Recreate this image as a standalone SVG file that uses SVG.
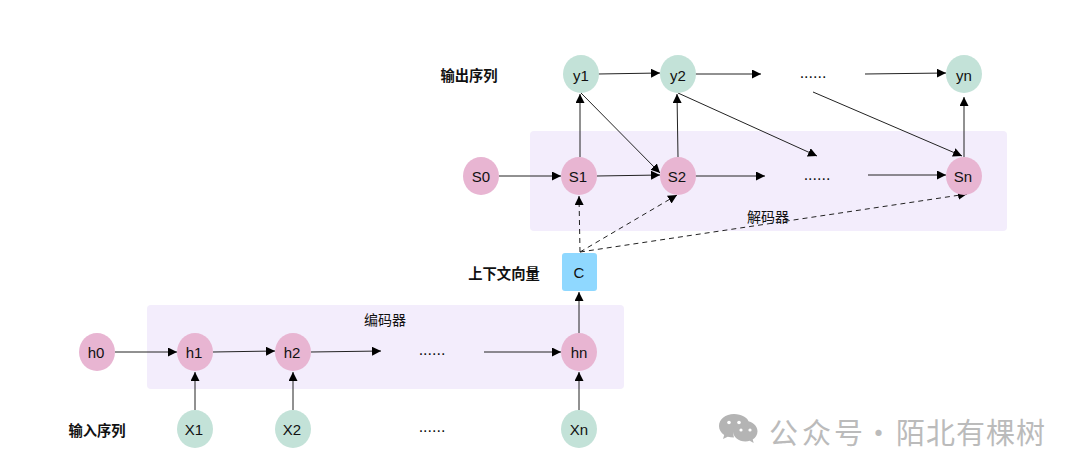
<svg xmlns="http://www.w3.org/2000/svg" width="1080" height="475" viewBox="0 0 1080 475">
<style>
text{font-family:"Liberation Sans","Noto Sans CJK SC",sans-serif;fill:#111;text-anchor:middle;dominant-baseline:central}
.n{font-size:15px}
.b{font-size:14.300px;font-weight:bold;font-family:"Noto Sans CJK SC",sans-serif}
.l{font-size:14px;font-family:"Noto Sans CJK SC",sans-serif}
.d{font-size:16px}
.g{fill:#c3e2d8}.p{fill:#e8b5d2}
.r{fill:#f3edfc}
.c line{stroke:#222;stroke-width:1;marker-end:url(#a)}
.c line.s{stroke-dasharray:5 4}
.w{font-family:"Noto Sans CJK SC",sans-serif;font-size:29px;fill:#bbb;text-anchor:start;letter-spacing:1px}
</style>
<defs><marker id="a" markerUnits="userSpaceOnUse" markerWidth="10" markerHeight="10" refX="9" refY="4.500" orient="auto"><path d="M0 0L9 4.500L0 9Z" fill="#000"/></marker></defs>
<rect width="1080" height="475" fill="#fff"/>
<g id="decoder-box"><rect class="r" x="530" y="131" width="477" height="100" rx="4"/><text class="l" x="768" y="216">解码器</text></g>
<g id="encoder-box"><rect class="r" x="147" y="305" width="477" height="84" rx="4"/><text class="l" x="385" y="319">编码器</text></g>
<g class="c" id="connectors" fill="none">
<line x1="598" y1="74" x2="660" y2="73"/>
<line x1="695" y1="74" x2="761" y2="74"/>
<line x1="865" y1="74" x2="946" y2="73"/>
<line x1="580" y1="157" x2="580" y2="94"/>
<line x1="678" y1="157" x2="677" y2="94"/>
<line x1="964" y1="157" x2="964" y2="97"/>
<line x1="581" y1="93" x2="660" y2="173"/>
<line x1="678" y1="93" x2="817" y2="156"/>
<line x1="813" y1="92" x2="962" y2="156"/>
<line x1="499" y1="176" x2="561" y2="176"/>
<line x1="597" y1="176" x2="660" y2="175"/>
<line x1="695" y1="176" x2="765" y2="176"/>
<line x1="868" y1="175" x2="946" y2="175"/>
<line class="s" x1="580" y1="252" x2="579" y2="196"/>
<line class="s" x1="580" y1="252" x2="677" y2="195"/>
<line class="s" x1="580" y1="252" x2="967" y2="194"/>
<line x1="579" y1="333" x2="579" y2="292"/>
<line x1="115" y1="352" x2="177" y2="352"/>
<line x1="213" y1="352" x2="275" y2="351"/>
<line x1="311" y1="352" x2="381" y2="351"/>
<line x1="484" y1="352" x2="561" y2="352"/>
<line x1="195" y1="410" x2="195" y2="372"/>
<line x1="293" y1="410" x2="293" y2="372"/>
<line x1="579" y1="410" x2="579" y2="372"/>
</g>
<g id="y1"><ellipse class="g" cx="581" cy="74" rx="18" ry="19"/><text class="n" x="581" y="75">y1</text></g>
<g id="y2"><ellipse class="g" cx="678" cy="74" rx="18" ry="19"/><text class="n" x="678" y="75">y2</text></g>
<g id="yn"><ellipse class="g" cx="964" cy="74" rx="18" ry="19"/><text class="n" x="964" y="75">yn</text></g>
<g id="S0"><ellipse class="p" cx="481" cy="176" rx="18" ry="19"/><text class="n" x="481" y="176">S0</text></g>
<g id="S1"><ellipse class="p" cx="579" cy="176" rx="18" ry="19"/><text class="n" x="578" y="176">S1</text></g>
<g id="S2"><ellipse class="p" cx="678" cy="176" rx="18" ry="19"/><text class="n" x="677" y="176">S2</text></g>
<g id="Sn"><ellipse class="p" cx="964" cy="176" rx="18" ry="19"/><text class="n" x="963" y="176">Sn</text></g>
<g id="C"><rect x="562" y="253" width="35" height="38" rx="3" fill="#8fd8ff"/><text class="n" x="579" y="272">C</text></g>
<g id="h0"><ellipse class="p" cx="97" cy="352" rx="18" ry="19"/><text class="n" x="96" y="352">h0</text></g>
<g id="h1"><ellipse class="p" cx="195" cy="352" rx="18" ry="19"/><text class="n" x="194" y="352">h1</text></g>
<g id="h2"><ellipse class="p" cx="293" cy="352" rx="18" ry="19"/><text class="n" x="292" y="352">h2</text></g>
<g id="hn"><ellipse class="p" cx="579" cy="352" rx="18" ry="19"/><text class="n" x="579" y="352">hn</text></g>
<g id="X1"><ellipse class="g" cx="195" cy="429" rx="18" ry="19"/><text class="n" x="194" y="429">X1</text></g>
<g id="X2"><ellipse class="g" cx="293" cy="429" rx="18" ry="19"/><text class="n" x="292" y="429">X2</text></g>
<g id="Xn"><ellipse class="g" cx="579" cy="429" rx="18" ry="19"/><text class="n" x="579" y="429">Xn</text></g>
<g id="labels">
<text class="b" x="469" y="74">输出序列</text>
<text class="b" x="504" y="272">上下文向量</text>
<text class="b" x="97" y="429">输入序列</text>
<text class="d" x="813" y="72">......</text>
<text class="d" x="817" y="174">......</text>
<text class="d" x="432" y="349">......</text>
<text class="d" x="432" y="426">......</text>
</g>
<g id="watermark">
<path fill="#b4b4b4" d="M734 414c-8.500 0-15 5.300-15 12 0 3.700 2 6.900 5.200 9.100l-1.200 4 4.700-2.400c1.900.5 3.900.8 6.300.8-.4-1.100-.6-2.300-.6-3.500 0-6.600 6.300-11.500 14.500-11.500h1C748 417.600 741.600 414 734 414z"/>
<path fill="#b4b4b4" d="M745.500 421c-6.900 0-12.500 4.600-12.500 10.200s5.600 10.200 12.500 10.200c1.500 0 2.900-.2 4.200-.6l4 2.100-1-3.400c2.900-1.900 4.800-4.900 4.800-8.300 0-5.600-5.600-10.200-12-10.200z"/>
<g fill="#fff"><circle cx="729" cy="422.500" r="1.800"/><circle cx="739" cy="422.500" r="1.800"/><circle cx="741" cy="430" r="1.600"/><circle cx="750" cy="430" r="1.600"/></g>
<text class="w" x="769 802 834 864 896 926 956 986 1016" y="431">公众号·陌北有棵树</text>
</g>
</svg>
